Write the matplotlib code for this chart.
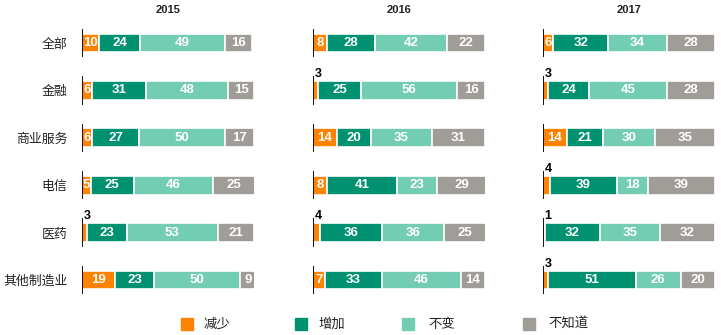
import matplotlib.pyplot as plt
from matplotlib.lines import Line2D

plt.rcParams['font.family'] = ['Noto Sans CJK SC', 'DejaVu Sans']

categories = ["全部", "金融", "商业服务", "电信", "医药", "其他制造业"]
years = ["2015", "2016", "2017"]
series = ["减少", "增加", "不变", "不知道"]
colors = ["#FF8200", "#009170", "#73CDB3", "#A09D98"]

values_2015 = [[10, 24, 49, 16], [6, 31, 48, 15], [6, 27, 50, 17],
               [5, 25, 46, 25], [3, 23, 53, 21], [19, 23, 50, 9]]
values_2016 = [[8, 28, 42, 22], [3, 25, 56, 16], [14, 20, 35, 31],
               [8, 41, 23, 29], [4, 36, 36, 25], [7, 33, 46, 14]]
values_2017 = [[6, 32, 34, 28], [3, 24, 45, 28], [14, 21, 30, 35],
               [4, 39, 18, 39], [1, 32, 35, 32], [3, 51, 26, 20]]
all_values = [values_2015, values_2016, values_2017]

num_font = ['Liberation Sans', 'DejaVu Sans']

W, H = 721, 335
fig = plt.figure(figsize=(W / 100, H / 100), dpi=100)

panel_left = [82, 313, 543]
panel_w = 172
row_h = 47.4
top = 43 - row_h / 2
bottom = top + row_h * 6

for p, (year, vals) in enumerate(zip(years, all_values)):
    ax = fig.add_axes([panel_left[p] / W, 1 - bottom / H, panel_w / W, (bottom - top) / H])
    for i, row in enumerate(vals):
        left = 0
        for j, v in enumerate(row):
            ax.barh(i, v, left=left, height=0.4, color=colors[j],
                    edgecolor="white", linewidth=1.2)
            if v >= 5:
                ax.text(left + v / 2, i, str(v), ha="center", va="center",
                        color="white", fontsize=9.5, fontweight="bold", family=num_font)
            else:
                ax.text(1, i - 0.34, str(v), ha="left", va="center",
                        color="black", fontsize=9, fontweight="bold", family=num_font)
            left += v
        ax.vlines(0, i - 0.3, i + 0.3, color="black", linewidth=1.3, zorder=4)
    ax.set_xlim(0, 100)
    ax.set_ylim(5.5, -0.5)
    ax.set_xticks([])
    ax.set_yticks(range(len(categories)))
    if p == 0:
        ax.set_yticklabels(categories, fontsize=9.3, color="#222222")
        ax.tick_params(axis="y", length=0, pad=10.5)
    else:
        ax.set_yticklabels([])
        ax.tick_params(axis="y", length=0)
    for s in ax.spines.values():
        s.set_visible(False)
    fig.text((panel_left[p] + panel_w / 2) / W, 1 - 10 / H, year, ha="center", va="center",
             fontsize=8, fontweight="bold", family=num_font, color="#222222")

# legend
marker_x = [187, 301, 408, 529]
text_x = [203, 318, 428, 548]
ly = 1 - 324 / H
for k, name in enumerate(series):
    fig.add_artist(Line2D([marker_x[k] / W], [ly], marker="s", markersize=8,
                          color=colors[k], transform=fig.transFigure, linestyle="none"))
    fig.text(text_x[k] / W, ly, name, ha="left", va="center", fontsize=9.6, color="#222222")

fig.savefig("out.png", dpi=100)
